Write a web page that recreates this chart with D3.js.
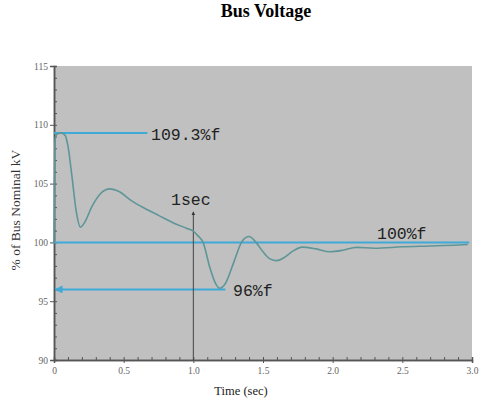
<!DOCTYPE html>
<html>
<head>
<meta charset="utf-8">
<script src="https://cdn.jsdelivr.net/npm/d3@7"></script>
<style>
  body { margin: 0; background: #fff; }
  svg { display: block; }
</style>
</head>
<body>
<div id="chart"></div>
<script>
// simulated bus voltage
const timeSec = [0, 0.008, 0.02, 0.05, 0.08, 0.1, 0.13, 0.16, 0.19, 0.22, 0.27, 0.33, 0.4, 0.47, 0.55, 0.65, 0.75, 0.85, 0.95, 1.0,
  1.03, 1.07, 1.12, 1.16, 1.19, 1.23, 1.29, 1.35, 1.4, 1.45, 1.5, 1.55, 1.6, 1.65, 1.72, 1.78, 1.88, 1.98, 2.08, 2.17, 2.3, 2.5, 2.7, 2.9, 2.97];
const voltagePct = [100, 108.8, 109.2, 109.3, 109.1, 108.2, 105.5, 102.6, 101.3, 101.7, 103.0, 104.1, 104.55, 104.3, 103.6, 102.9, 102.3, 101.7, 101.2, 100.95,
  100.6, 100.0, 97.8, 96.5, 96.1, 96.5, 98.3, 100.1, 100.5, 100.0, 99.2, 98.6, 98.45, 98.7, 99.3, 99.6, 99.45, 99.2, 99.35, 99.58, 99.5, 99.63, 99.7, 99.78, 99.82];

const xMajor = [0, 0.5, 1.0, 1.5, 2.0, 2.5, 3.0];
const xLabels = ["0", "0.5", "1.0", "1.5", "2.0", "2.5", "3.0"];
const yMajor = [90, 95, 100, 105, 110, 115];

const peakLevel = 109.3;
const nominalLevel = 100;
const dipLevel = 96;
const switchTime = 1.0;

const width = 486, height = 405;
const margin = {top: 66, right: 14, bottom: 45, left: 54};
const innerW = width - margin.left - margin.right;
const innerH = height - margin.top - margin.bottom;

const svg = d3.select("#chart").append("svg")
  .attr("width", width)
  .attr("height", height);

const defs = svg.append("defs");
function arrowMarker(id, color) {
  defs.append("marker")
    .attr("id", id)
    .attr("viewBox", "0 0 10 10")
    .attr("refX", 9).attr("refY", 5)
    .attr("markerWidth", 4).attr("markerHeight", 4)
    .attr("orient", "auto-start-reverse")
    .append("path")
    .attr("d", "M0,0 L10,5 L0,10 z")
    .attr("fill", color);
}
arrowMarker("arrowCyan", "#3fa9d8");
arrowMarker("arrowGray", "#333");

svg.append("text")
  .attr("x", 266).attr("y", 17)
  .attr("text-anchor", "middle")
  .style("font-family", "'Liberation Serif', serif")
  .style("font-weight", "bold")
  .style("font-size", "18px")
  .text("Bus Voltage");

const g = svg.append("g").attr("transform", `translate(${margin.left},${margin.top})`);

const x = d3.scaleLinear().domain([0, 3]).range([0, innerW]);
const y = d3.scaleLinear().domain([90, 115]).range([innerH, 0]);

g.append("rect")
  .attr("width", innerW).attr("height", innerH)
  .attr("fill", "#c0c0c0");

// minor ticks pointing inward
const xMinor = g.append("g")
  .attr("transform", `translate(0,${innerH})`)
  .call(d3.axisBottom(x).ticks(30).tickSize(-3).tickFormat(""));
const yMinor = g.append("g")
  .call(d3.axisLeft(y).ticks(25).tickSize(-3).tickFormat(""));

const xAxis = g.append("g")
  .attr("transform", `translate(0,${innerH})`)
  .call(d3.axisBottom(x).tickValues(xMajor).tickSize(3).tickPadding(4)
    .tickFormat((d, i) => xLabels[i]));
const yAxis = g.append("g")
  .call(d3.axisLeft(y).tickValues(yMajor).tickSize(4).tickPadding(2));

[xMinor, yMinor, xAxis, yAxis].forEach(a => {
  a.select(".domain").attr("stroke", "#555").attr("stroke-width", 1.5);
  a.selectAll(".tick line").attr("stroke", "#555");
  a.selectAll(".tick text")
    .attr("fill", "#666")
    .style("font-family", "'Liberation Serif', serif")
    .style("font-size", "9.5px");
});

svg.append("text")
  .attr("x", 241).attr("y", 395)
  .attr("text-anchor", "middle")
  .style("font-family", "'Liberation Serif', serif")
  .style("font-size", "12.5px")
  .attr("fill", "#222")
  .text("Time (sec)");

svg.append("text")
  .attr("transform", "translate(20,210) rotate(-90)")
  .attr("text-anchor", "middle")
  .style("font-family", "'Liberation Serif', serif")
  .style("font-size", "13.5px")
  .attr("fill", "#333")
  .text("% of Bus Nominal kV");

const cyan = "#3fa9d8";
const mono = "'Liberation Mono', monospace";

// 100% nominal line
g.append("line")
  .attr("x1", x(0)).attr("x2", x(2.98))
  .attr("y1", y(nominalLevel)).attr("y2", y(nominalLevel))
  .attr("stroke", cyan).attr("stroke-width", 2);

// peak line
g.append("line")
  .attr("x1", x(0)).attr("x2", x(0.67))
  .attr("y1", y(peakLevel)).attr("y2", y(peakLevel))
  .attr("stroke", cyan).attr("stroke-width", 2);

// dip arrow
g.append("line")
  .attr("x1", x(1.23)).attr("x2", x(0.01))
  .attr("y1", y(dipLevel)).attr("y2", y(dipLevel))
  .attr("stroke", cyan).attr("stroke-width", 2)
  .attr("marker-end", "url(#arrowCyan)");

// 1 sec arrow
g.append("line")
  .attr("x1", x(switchTime)).attr("x2", x(switchTime))
  .attr("y1", innerH).attr("y2", y(102.6))
  .attr("stroke", "#444").attr("stroke-width", 1)
  .attr("marker-end", "url(#arrowGray)");

const line = d3.line()
  .x((d, i) => x(timeSec[i]))
  .y(d => y(d))
  .curve(d3.curveMonotoneX);

g.append("path")
  .datum(voltagePct)
  .attr("fill", "none")
  .attr("stroke", "#5e9698")
  .attr("stroke-width", 1.6)
  .attr("d", line);

function note(txt, px, py) {
  svg.append("text")
    .attr("x", px).attr("y", py)
    .style("font-family", mono)
    .style("font-size", "16.5px")
    .attr("fill", "#222")
    .text(txt);
}
note("109.3%f", 151, 140);
note("1sec", 171, 205);
note("100%f", 377, 239);
note("96%f", 233, 296);
</script>
</body>
</html>
